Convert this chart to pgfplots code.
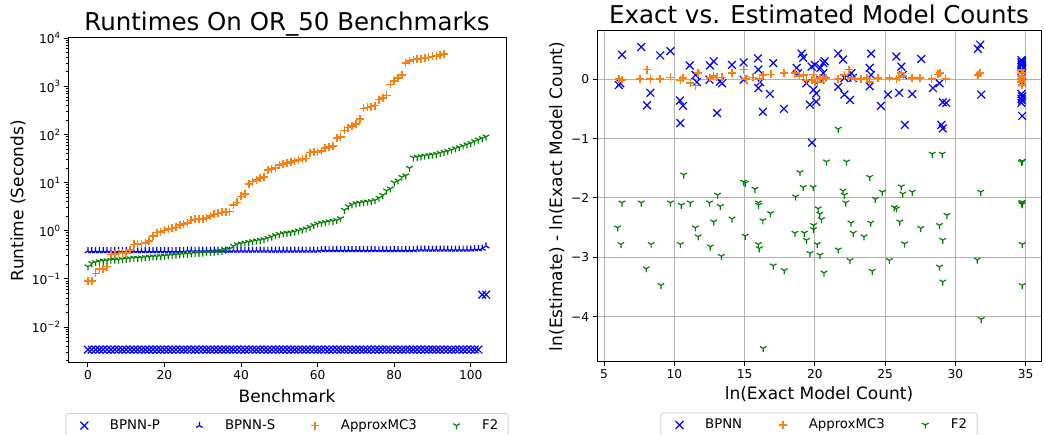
\documentclass[border=0pt]{standalone}
\usepackage{fontspec}
\setmainfont{DejaVu Sans}
\usepackage{pgfplots}
\pgfplotsset{compat=1.18}
\usetikzlibrary{plotmarks}

\definecolor{mblue}{RGB}{0,0,255}
\definecolor{morange}{RGB}{255,127,14}
\definecolor{mgreen}{RGB}{0,128,0}
\definecolor{gridgray}{RGB}{176,176,176}
\definecolor{legframe}{RGB}{214,214,214}

\newcommand{\E}[1]{10\raisebox{0.42em}{\fontsize{8.6}{9}\selectfont #1}}

\pgfplotsset{
  myaxis/.style={
    scale only axis,
    anchor=south west,
    tick pos=left,
    tick align=outside,
    major tick length=4.3pt,
    minor tick length=2.4pt,
    axis line style={black, line width=1pt},
    every tick/.style={black, line width=1pt},
    /pgf/number format/assume math mode=true,
    tick label style={font=\fontsize{12.2}{14}\selectfont},
    label style={font=\fontsize{17}{20}\selectfont},
    title style={font=\fontsize{24.5}{29}\selectfont, anchor=base},
    legend columns=-1,
    legend cell align=left,
    legend image code/.code={\path (-8pt,0pt) (8pt,0pt); \draw[##1] plot coordinates {(0pt,0pt)};},
    legend style={
      font=\fontsize{13.3}{15}\selectfont,
      anchor=north,
      draw=legframe, line width=1pt, rounded corners=2.5pt,
      inner xsep=10pt, inner ysep=6pt,
      nodes={inner sep=0pt, text depth=0.24em},
      /tikz/every odd column/.append style={column sep=17pt},
    },
  },
  mk/.style={only marks, line width=1.2pt},
  mkplus/.style={only marks, line width=1.6pt},
}

\begin{document}
\begin{tikzpicture}

% ---------------- left: runtimes ----------------
\begin{axis}[
  myaxis,
  at={(68pt,72pt)},
  width=438pt, height=325pt,
  ymode=log,
  xmin=-5.2, xmax=109.2,
  ymin=0.00179, ymax=10150,
  xtick={0,20,40,60,80,100},
  ytick={0.01,0.1,1,10,100,1000,10000},
  yticklabels={\E{−2},\E{−1},\E{0},\E{1},\E{2},\E{3},\E{4}},
  minor ytick={0.002,0.003,0.004,0.005,0.006,0.007,0.008,0.009,
    0.02,0.03,0.04,0.05,0.06,0.07,0.08,0.09,
    0.2,0.3,0.4,0.5,0.6,0.7,0.8,0.9,
    2,3,4,5,6,7,8,9,20,30,40,50,60,70,80,90,
    200,300,400,500,600,700,800,900,2000,3000,4000,5000,6000,7000,8000,9000},
  xlabel={Benchmark},
  ylabel={Runtime (Seconds)},
  xlabel style={at={(axis description cs:0.5,-0.121)}, anchor=base},
  ylabel style={at={(axis description cs:-0.102,0.5)}, anchor=base},
  title={Runtimes On OR\_50 Benchmarks},
  title style={at={(axis description cs:0.5,1.004)}},
  legend style={at={(axis description cs:0.5,-0.1538)},
    /tikz/every even column/.append style={column sep=31pt}},
]
\addplot[mk, mblue, mark=x, mark size=5.5pt] coordinates {
(0,0.0034)(1,0.0034)(2,0.0034)(3,0.0034)(4,0.0034)(5,0.0034)(6,0.0034)(7,0.0034)(8,0.0034)(9,0.0034)
(10,0.0034)(11,0.0034)(12,0.0034)(13,0.0034)(14,0.0034)(15,0.0034)(16,0.0034)(17,0.0034)(18,0.0034)(19,0.0034)
(20,0.0034)(21,0.0034)(22,0.0034)(23,0.0034)(24,0.0034)(25,0.0034)(26,0.0034)(27,0.0034)(28,0.0034)(29,0.0034)
(30,0.0034)(31,0.0034)(32,0.0034)(33,0.0034)(34,0.0034)(35,0.0034)(36,0.0034)(37,0.0034)(38,0.0034)(39,0.0034)
(40,0.0034)(41,0.0034)(42,0.0034)(43,0.0034)(44,0.0034)(45,0.0034)(46,0.0034)(47,0.0034)(48,0.0034)(49,0.0034)
(50,0.0034)(51,0.0034)(52,0.0034)(53,0.0034)(54,0.0034)(55,0.0034)(56,0.0034)(57,0.0034)(58,0.0034)(59,0.0034)
(60,0.0034)(61,0.0034)(62,0.0034)(63,0.0034)(64,0.0034)(65,0.0034)(66,0.0034)(67,0.0034)(68,0.0034)(69,0.0034)
(70,0.0034)(71,0.0034)(72,0.0034)(73,0.0034)(74,0.0034)(75,0.0034)(76,0.0034)(77,0.0034)(78,0.0034)(79,0.0034)
(80,0.0034)(81,0.0034)(82,0.0034)(83,0.0034)(84,0.0034)(85,0.0034)(86,0.0034)(87,0.0034)(88,0.0034)(89,0.0034)
(90,0.0034)(91,0.0034)(92,0.0034)(93,0.0034)(94,0.0034)(95,0.0034)(96,0.0034)(97,0.0034)(98,0.0034)(99,0.0034)
(100,0.0034)(101,0.0034)(102,0.0034)(103,0.047)(104,0.047)
};
\addlegendentry{BPNN-P}
\addplot[mk, mblue, mark=Mercedes star, mark size=3.8pt] coordinates {
(0,0.38)(1,0.38)(2,0.38)(3,0.38)(4,0.38)(5,0.38)(6,0.38)(7,0.38)(8,0.38)(9,0.38)
(10,0.38)(11,0.38)(12,0.38)(13,0.38)(14,0.38)(15,0.38)(16,0.38)(17,0.38)(18,0.38)(19,0.38)
(20,0.38)(21,0.38)(22,0.38)(23,0.38)(24,0.38)(25,0.38)(26,0.39)(27,0.39)(28,0.39)(29,0.39)
(30,0.39)(31,0.39)(32,0.39)(33,0.39)(34,0.39)(35,0.39)(36,0.39)(37,0.39)(38,0.39)(39,0.39)
(40,0.39)(41,0.39)(42,0.39)(43,0.39)(44,0.39)(45,0.39)(46,0.39)(47,0.39)(48,0.39)(49,0.39)
(50,0.39)(51,0.39)(52,0.39)(53,0.39)(54,0.39)(55,0.39)(56,0.39)(57,0.39)(58,0.39)(59,0.39)
(60,0.39)(61,0.40)(62,0.40)(63,0.40)(64,0.40)(65,0.40)(66,0.40)(67,0.40)(68,0.40)(69,0.40)
(70,0.40)(71,0.40)(72,0.40)(73,0.40)(74,0.40)(75,0.40)(76,0.40)(77,0.40)(78,0.40)(79,0.40)
(80,0.40)(81,0.40)(82,0.40)(83,0.40)(84,0.40)(85,0.40)(86,0.41)(87,0.41)(88,0.41)(89,0.41)
(90,0.41)(91,0.41)(92,0.41)(93,0.41)(94,0.41)(95,0.41)(96,0.41)(97,0.41)(98,0.41)(99,0.41)
(100,0.41)(101,0.42)(102,0.42)(103,0.43)(104,0.48)
};
\addlegendentry{BPNN-S}
\addplot[mkplus, morange, mark=+, mark size=4pt] coordinates {
(0,0.09)(1,0.09)(2,0.13)(3,0.16)(4,0.16)(5,0.18)(6,0.32)(7,0.33)(8,0.34)(9,0.35)
(10,0.35)(11,0.40)(12,0.52)(13,0.53)(14,0.54)(15,0.55)(16,0.62)(17,0.78)(18,0.92)(19,0.95)
(20,1.02)(21,1.08)(22,1.12)(23,1.18)(24,1.32)(25,1.38)(26,1.45)(27,1.65)(28,1.72)(29,1.75)
(30,1.78)(31,1.85)(32,2.05)(33,2.2)(34,2.3)(35,2.4)(36,2.45)(37,2.5)(38,3.4)(39,3.9)
(40,5.2)(41,5.8)(42,9.5)(43,10.5)(44,11.5)(45,12.5)(46,13.2)(47,18.5)(48,19.5)(49,20)
(50,23)(51,24.5)(52,26)(53,27)(54,28)(55,30)(56,31)(57,32)(58,42)(59,43)
(60,44)(61,45)(62,52)(63,55)(64,58)(65,85)(66,90)(67,122)(68,140)(69,150)
(70,165)(71,210)(72,350)(73,365)(74,380)(75,400)(76,530)(77,580)(78,650)(79,1100)
(80,1300)(81,1500)(82,1750)(83,3100)(84,3400)(85,3600)(86,3700)(87,3800)(88,3900)(89,4000)
(90,4200)(91,4300)(92,4500)(93,4700)
};
\addlegendentry{ApproxMC3}
\addplot[mk, mgreen, mark=Mercedes star flipped, mark size=3.8pt] coordinates {
(0,0.18)(1,0.21)(2,0.22)(3,0.23)(4,0.235)(5,0.24)(6,0.245)(7,0.25)(8,0.25)(9,0.255)
(10,0.26)(11,0.265)(12,0.27)(13,0.27)(14,0.275)(15,0.28)(16,0.285)(17,0.29)(18,0.29)(19,0.295)
(20,0.30)(21,0.305)(22,0.31)(23,0.315)(24,0.32)(25,0.325)(26,0.33)(27,0.335)(28,0.34)(29,0.345)
(30,0.35)(31,0.355)(32,0.36)(33,0.365)(34,0.37)(35,0.38)(36,0.40)(37,0.42)(38,0.48)(39,0.52)
(40,0.54)(41,0.56)(42,0.58)(43,0.60)(44,0.62)(45,0.64)(46,0.66)(47,0.70)(48,0.75)(49,0.80)
(50,0.85)(51,0.88)(52,0.90)(53,0.92)(54,0.95)(55,1.0)(56,1.05)(57,1.1)(58,1.2)(59,1.3)
(60,1.4)(61,1.45)(62,1.5)(63,1.55)(64,1.6)(65,1.65)(66,1.8)(67,2.7)(68,3.2)(69,3.5)
(70,3.7)(71,3.8)(72,3.9)(73,4.0)(74,4.1)(75,4.3)(76,4.8)(77,5.5)(78,6.8)(79,7.5)
(80,10)(81,11)(82,13)(83,14)(84,20)(85,33)(86,34)(87,35)(88,36)(89,37)
(90,38)(91,39)(92,41)(93,43)(94,45)(95,48)(96,51)(97,54)(98,58)(99,62)
(100,66)(101,72)(102,78)(103,83)(104,90)
};
\addlegendentry{F2}
\end{axis}

% ---------------- right: exact vs estimated ----------------
\begin{axis}[
  myaxis,
  at={(597pt,73pt)},
  width=444pt, height=331pt,
  xmin=4.5, xmax=36.09,
  ymin=-4.76, ymax=0.81,
  xtick={5,10,15,20,25,30,35},
  ytick={-4,-3,-2,-1,0},
  yticklabels={−4,−3,−2,−1,0},
  grid=major,
  major grid style={gridgray, line width=1pt},
  xlabel={ln(Exact Model Count)},
  ylabel={ln(Estimate) - ln(Exact Model Count)},
  xlabel style={at={(axis description cs:0.5,-0.1148)}, anchor=base},
  ylabel style={at={(axis description cs:-0.0788,0.5)}, anchor=base},
  title={Exact vs. Estimated Model Counts},
  title style={at={(axis description cs:0.5,1.0037)}},
  legend style={at={(axis description cs:0.5,-0.152)},
    /tikz/every even column/.append style={column sep=32pt}},
]
\addplot[mk, mblue, mark=x, mark size=5.5pt] coordinates {
(6.05,-0.10)(6.16,-0.07)(6.28,0.41)(7.65,0.54)(8.06,-0.44)(8.3,-0.23)(9.0,0.40)(9.72,0.47)
(10.43,-0.74)(10.4,-0.36)(10.62,-0.45)(11.1,0.23)(11.5,0.07)(11.6,-0.05)(12.54,0.23)(12.8,0.3)
(12.5,-0.01)(13.04,-0.57)(13.25,-0.04)(13.4,-0.07)(14.1,0.24)(14.93,0.28)(14.93,-0.01)
(15.95,0.35)(15.98,0.16)(16.1,-0.05)(15.98,-0.15)(17.04,0.27)(16.8,-0.25)(16.3,-0.55)(17.8,-0.50)
(19.06,0.43)(19.17,0.36)(18.7,0.19)(18.8,0.1)(19.4,-0.07)(19.77,0.21)(20.0,0.24)(19.9,-0.18)
(20.1,-0.24)(19.65,-0.43)(20.1,-0.38)(19.8,-1.07)(20.4,0.19)(20.6,0.27)(20.7,0.3)(20.4,-0.01)
(20.6,0.1)(21.66,0.43)(22.0,0.33)(21.66,-0.13)(22.1,-0.26)(22.5,-0.35)(22.1,0.02)(22.6,0.1)
(22.7,0.02)(24.0,0.43)(23.9,0.19)(24.0,0.07)(23.9,-0.12)(25.2,-0.26)(24.7,-0.45)(25.8,0.38)
(26.15,0.21)(26.26,0.07)(27.57,0.34)(26.0,-0.23)(26.93,-0.25)(26.4,-0.77)(28.4,-0.15)(28.87,-0.07)
(29.1,-0.39)(29.35,-0.40)(29.0,-0.77)(29.1,-0.83)(31.6,0.51)(31.77,0.58)(31.84,-0.26)
(34.7,0.32)(34.75,0.3)(34.7,0.28)(34.75,0.26)(34.7,0.24)(34.75,0.22)(34.7,0.2)(34.75,0.17)
(34.7,0.14)(34.75,-0.05)(34.7,-0.25)(34.75,-0.29)(34.7,-0.33)(34.75,-0.36)(34.7,-0.4)(34.75,-0.62)
};
\addlegendentry{BPNN}
\addplot[mkplus, morange, mark=+, mark size=4pt] coordinates {
(6.05,0.0)(6.28,-0.01)(7.58,0.0)(8.06,0.16)(8.3,0.0)(9.0,0.0)(9.72,0.03)(10.43,-0.02)
(10.6,0.02)(11.14,-0.07)(11.5,-0.11)(11.7,0.1)(12.56,0.02)(12.8,0.05)(13.04,0.03)(13.4,0.03)
(14.1,0.1)(14.93,0.16)(15.1,0.0)(15.6,0.03)(16.05,0.0)(16.3,0.07)(16.9,0.08)(17.8,0.1)
(18.6,0.1)(18.9,0.05)(19.2,0.07)(19.4,-0.02)(19.8,-0.02)(19.9,0.08)(20.0,-0.05)(20.2,-0.06)
(20.35,0.02)(20.6,0.0)(20.8,0.02)(21.66,0.0)(22.1,0.07)(22.45,0.16)(22.6,0.02)(22.9,0.0)
(23.3,0.0)(23.7,0.02)(23.9,-0.05)(24.5,0.02)(25.3,0.02)(25.8,0.0)(26.0,0.03)(26.15,0.1)
(26.3,0.05)(26.9,0.02)(27.5,0.02)(28.3,0.0)(28.75,0.08)(28.9,0.1)(29.3,0.0)(31.6,0.07)
(31.77,0.1)(34.7,0.15)(34.75,0.1)(34.7,0.05)(34.75,0.02)(34.7,0.0)(34.75,-0.02)(34.7,-0.05)
(34.75,-0.1)
};
\addlegendentry{ApproxMC3}
\addplot[mk, mgreen, mark=Mercedes star flipped, mark size=3.8pt] coordinates {
(5.97,-2.5)(6.28,-2.08)(6.2,-2.78)(7.65,-2.08)(8.0,-3.19)(8.35,-2.78)(9.05,-3.47)(9.72,-2.08)
(10.43,-2.78)(10.5,-2.12)(10.67,-1.61)(11.14,-2.08)(11.5,-2.5)(11.7,-2.65)(12.5,-2.08)(12.56,-2.82)
(12.8,-2.40)(13.08,-1.95)(13.27,-2.14)(13.35,-2.98)(14.1,-2.35)(14.93,-1.73)(15.05,-1.75)(15.05,-2.64)
(15.74,-1.85)(15.98,-2.08)(16.0,-2.12)(15.98,-2.78)(16.05,-2.85)(16.3,-2.38)(16.33,-4.53)(16.85,-2.26)
(17.04,-3.14)(17.82,-3.22)(18.58,-2.59)(18.63,-1.98)(18.94,-1.57)(19.17,-1.82)(19.25,-2.59)(19.4,-2.71)
(19.65,-2.93)(19.88,-1.82)(19.9,-2.46)(19.9,-2.53)(20.17,-2.78)(20.24,-2.18)(20.35,-2.27)(20.36,-2.96)
(20.47,-2.36)(20.65,-3.26)(20.83,-1.39)(21.66,-0.84)(21.66,-2.87)(22.0,-1.88)(22.1,-1.95)(22.2,-2.08)
(22.25,-1.39)(22.5,-3.05)(22.57,-2.42)(22.73,-2.59)(23.5,-2.65)(23.9,-1.65)(23.97,-2.42)(24.08,-3.23)
(24.3,-2.02)(24.8,-1.9)(25.3,-3.05)(25.65,-2.16)(25.8,-2.18)(26.04,-2.40)(26.15,-1.81)(26.26,-1.93)
(26.38,-2.77)(26.93,-1.9)(27.54,-2.51)(28.35,-1.26)(28.87,-2.46)(28.87,-3.16)(29.06,-1.26)(29.1,-2.71)
(29.1,-3.41)(29.4,-2.29)(31.55,-3.04)(31.8,-1.9)(31.84,-4.04)(34.75,-1.38)(34.7,-1.4)(34.75,-2.07)
(34.7,-2.09)(34.75,-2.11)(34.75,-2.78)(34.75,-3.47)
};
\addlegendentry{F2}
\end{axis}

\pgfresetboundingbox
\useasboundingbox (0pt,0pt) rectangle (1044pt,435pt);
\end{tikzpicture}
\end{document}
